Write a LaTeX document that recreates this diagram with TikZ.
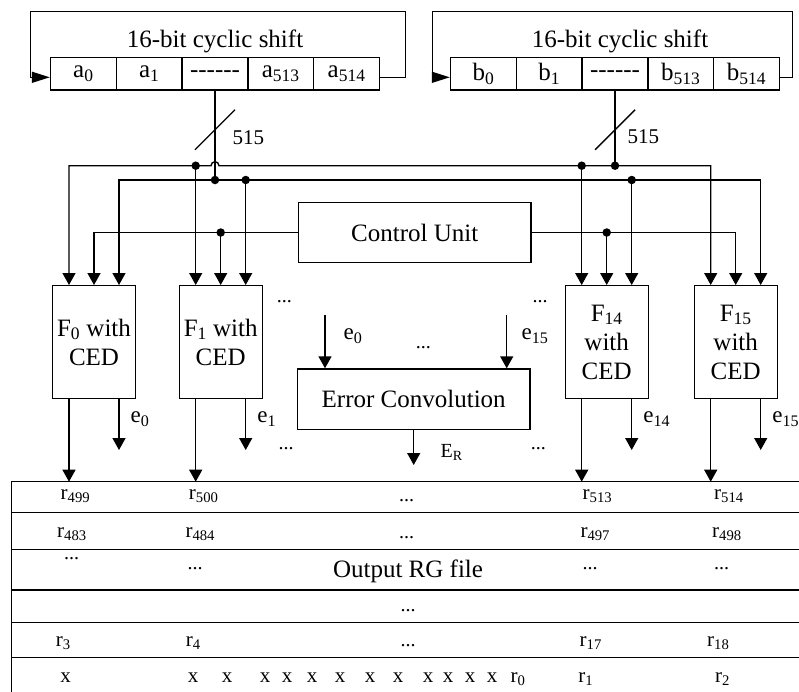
\documentclass[tikz,border=0pt]{standalone}
\usepackage{fontspec}
\setmainfont{Liberation Serif}
\usetikzlibrary{arrows.meta,calc}
\tikzset{
  arr/.style={-{Triangle[length=12pt,width=13pt]}},
  twoarr/.style={{Triangle[length=12pt,width=13pt]}-{Triangle[length=12pt,width=13pt]}},
  regarr/.style={-{Triangle[length=18pt,width=11pt]}},
  cell/.style={draw,minimum width=65.8pt,minimum height=32.7pt,inner sep=0pt},
  fbox/.style={draw,minimum width=83pt,minimum height=112.6pt,inner sep=0pt,align=center},
  blockbox/.style={draw,minimum width=232.7pt,minimum height=60.4pt,inner sep=0pt},
  junction/.style={circle,fill,inner sep=0pt,minimum size=8.5pt},
  lab/.style={inner sep=0pt,anchor=west,font=\fontsize{23}{23}\selectfont},
  tab/.style={inner sep=0pt,anchor=base,font=\fontsize{21}{21}\selectfont},
  ell/.style={inner sep=0pt,anchor=base,font=\fontsize{20}{20}\selectfont},
}
\begin{document}
\begin{tikzpicture}[x=1pt,y=-1pt,line width=1.4pt,font=\fontsize{25}{29}\selectfont]
\useasboundingbox (0,0) rectangle (799,691);
% shift registers
\foreach \t [count=\k from 0] in {a\textsubscript{0},a\textsubscript{1},-{}-{}-{}-{}-{}-,a\textsubscript{513},a\textsubscript{514}}
  \node[cell] (ca\k) at (83.4+65.8*\k,73.7) {\t};
\foreach \t [count=\k from 0] in {b\textsubscript{0},b\textsubscript{1},-{}-{}-{}-{}-{}-,b\textsubscript{513},b\textsubscript{514}}
  \node[cell] (cb\k) at (483.4+65.8*\k,73.7) {\t};
\node (ashift) at (215,41) {16-bit cyclic shift};
\node (bshift) at (620,41) {16-bit cyclic shift};
\draw[regarr] ([yshift=-3.6pt]ca4.east) -| (405.7,11.7) -| (30.7,77.3) -- ([yshift=-3.6pt]ca0.west);
\draw[regarr] ([yshift=-3.6pt]cb4.east) -| (792.7,11.7) -| (432.3,77.3) -- ([yshift=-3.6pt]cb0.west);
% bus width marks
\coordinate (sla) at ($(ca2.south)+(0,39)$);
\coordinate (slb) at ($(cb2.south)+(0,39)$);
\draw ([shift={(-20,20)}]sla) -- ([shift={(20,-20)}]sla);
\draw ([shift={(-20,20)}]slb) -- ([shift={(20,-20)}]slb);
\node[lab,font=\fontsize{21}{21}\selectfont] at ([shift={(17,8)}]sla) {515};
\node[lab,font=\fontsize{21}{21}\selectfont] at ([shift={(12,7)}]slb) {515};
% F blocks
\coordinate (busb) at (0,165.7);
\coordinate (busa) at (0,180);
\coordinate (tbl) at (11.7,481.7);
\foreach \n/\x/\t in {0/94/{F\textsubscript{0} with\\CED},1/220.7/{F\textsubscript{1} with\\CED},14/606.7/{F\textsubscript{14}\\with\\CED},15/735.7/{F\textsubscript{15}\\with\\CED}}{
  \node[fbox] (f\n) at (\x,342) {\t};
  \coordinate (fb\n) at ([xshift=-25pt]f\n.north);
  \coordinate (fa\n) at ([xshift=25pt]f\n.north);
  \coordinate (fe\n) at (fa\n |- f\n.south);
  \draw[arr] (fb\n |- f\n.south) -- (fb\n |- tbl);
  \draw[arr] (fe\n) -- ++(0,51);
  \node[lab] at ([shift={(11,20)}]fe\n) {e\textsubscript{\n}};
}
% input buses
\coordinate (hop) at (ca2.south |- busb);
\draw[twoarr] (fb0) |- ([xshift=-4pt]hop) arc[start angle=180,end angle=0,radius=4pt] -| (fb15);
\draw (cb2.south) -- (cb2.south |- busb) node[junction] {};
\draw[twoarr] (fa0) |- (fa15 |- busa) -- (fa15);
\draw (ca2.south) -- (ca2.south |- busa) node[junction] {};
\draw[arr] (fb1 |- busb) node[junction] {} -- (fb1);
\draw[arr] (fb14 |- busb) node[junction] {} -- (fb14);
\draw[arr] (fa1 |- busa) node[junction] {} -- (fa1);
\draw[arr] (fa14 |- busa) node[junction] {} -- (fa14);
% control
\node[blockbox] (ctrl) at (414.7,232.5) {Control Unit};
\draw[arr] (ctrl.west) -| (f0.north);
\draw[arr] (ctrl.east) -| (f15.north);
\draw[arr] (f1.north |- ctrl.west) node[junction] {} -- (f1.north);
\draw[arr] (f14.north |- ctrl.east) node[junction] {} -- (f14.north);
% error convolution
\node[blockbox] (conv) at (413.7,399.2) {Error Convolution};
\coordinate (ein0) at (325,315);
\coordinate (ein15) at (506.7,315);
\coordinate (eout) at (0,465);
\draw[arr] (ein0) -- (ein0 |- conv.north);
\draw[arr] (ein15) -- (ein15 |- conv.north);
\draw[arr] (conv.south) -- (conv.south |- eout);
\node[lab] at (343,336) {e\textsubscript{0}};
\node[lab] at (521,336) {e\textsubscript{15}};
\node[lab,font=\fontsize{20}{20}\selectfont] at (440,452) {E\textsubscript{R}};
\foreach \p in {(284.3,302),(540,302),(286,449),(538.3,449),(423.3,348)}
  \node[ell] at \p {...};
% output register file
\draw (tbl) rectangle (801,693);
\foreach \y in {512.3,549.3,590,622.3,657.7}
  \draw (11.7,\y) -- (801,\y);
\foreach \x/\y/\t in {75.5/499.3/r\textsubscript{499},203.7/499.3/r\textsubscript{500},597.5/499.3/r\textsubscript{513},729/499.3/r\textsubscript{514},
  72/537.3/r\textsubscript{483},200.3/537.3/r\textsubscript{484},595.3/537.3/r\textsubscript{497},727/537.3/r\textsubscript{498},
  63.3/646.7/r\textsubscript{3},193.3/646.7/r\textsubscript{4},590.8/646.7/r\textsubscript{17},718.3/646.7/r\textsubscript{18},
  65.7/682.7/x,518/682.7/r\textsubscript{0},585.8/682.7/r\textsubscript{1},722.5/682.7/r\textsubscript{2}}
  \node[tab] at (\x,\y) {\t};
\foreach \x in {193,227,265,287,312,340,370,398,428,448,470,492}
  \node[tab] at (\x,682.7) {x};
\foreach \p in {(406.7,501),(406.7,538),(71.7,559),(195,569),(590,569),(721.7,569),(408,611),(408,646)}
  \node[ell] at \p {...};
\node[anchor=base,inner sep=0pt] at (408,577.3) {Output RG file};
\end{tikzpicture}
\end{document}
